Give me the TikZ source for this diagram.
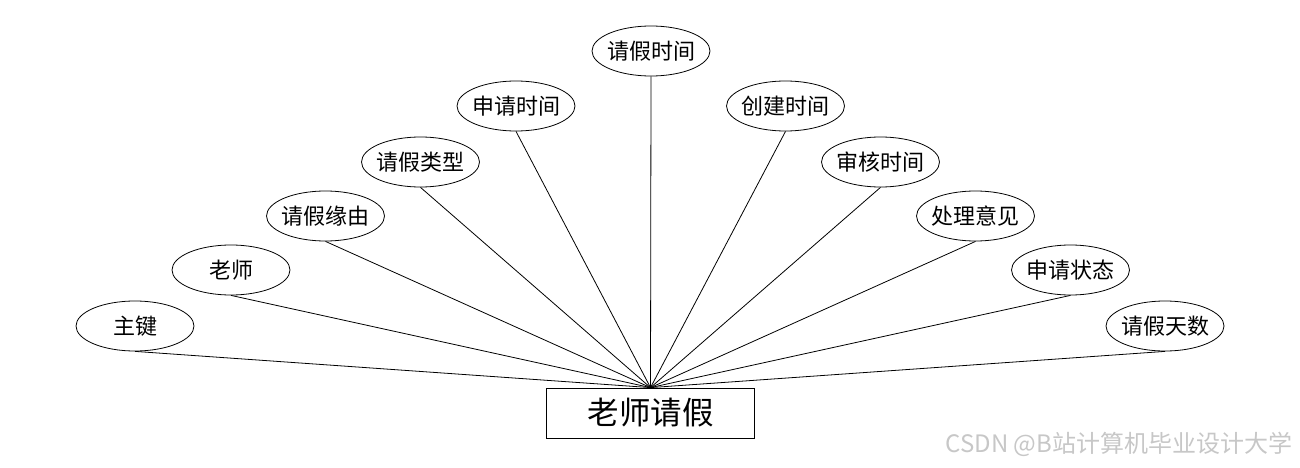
\documentclass[tikz,border=0pt]{standalone}
\usepackage{fontspec}
\setmainfont{Noto Sans CJK SC}
\usetikzlibrary{shapes.geometric}
\tikzset{
  attr/.style={draw, ellipse, minimum width=118pt, minimum height=50pt, inner xsep=-8pt, inner ysep=0pt, font=\fontsize{22}{22}\selectfont},
  ent/.style={draw, rectangle, minimum width=208pt, minimum height=50pt, inner sep=0pt, font=\fontsize{31.5}{31.5}\selectfont}
}
\begin{document}
\begin{tikzpicture}[x=1pt, y=-1pt, line width=0.8pt]
  \useasboundingbox (0,0) rectangle (1300,468);
  \node[ent] (jq) at (650.5,413) {老师请假};
  \node[attr] (zj) at (135,326) {主键};
  \node[attr] (ls) at (231,270) {老师};
  \node[attr] (yy) at (325.5,216) {请假缘由};
  \node[attr] (lx) at (420.5,162) {请假类型};
  \node[attr] (sqsj) at (516,106) {申请时间};
  \node[attr] (qjsj) at (651,51) {请假时间};
  \node[attr] (cjsj) at (785.5,106) {创建时间};
  \node[attr] (shsj) at (880.5,162) {审核时间};
  \node[attr] (clyj) at (975.5,216) {处理意见};
  \node[attr] (zt) at (1070.5,270) {申请状态};
  \node[attr] (ts) at (1165,326) {请假天数};
  \foreach \a in {zj,ls,yy,lx,sqsj,qjsj,cjsj,shsj,clyj,zt,ts}
    \draw (\a.south) -- (jq.north);
  \node[text=black!22, font=\fontsize{24}{24}\selectfont, anchor=east] (wm) at (1296,444) {CSDN @B站计算机毕业设计大学};
\end{tikzpicture}
\end{document}
